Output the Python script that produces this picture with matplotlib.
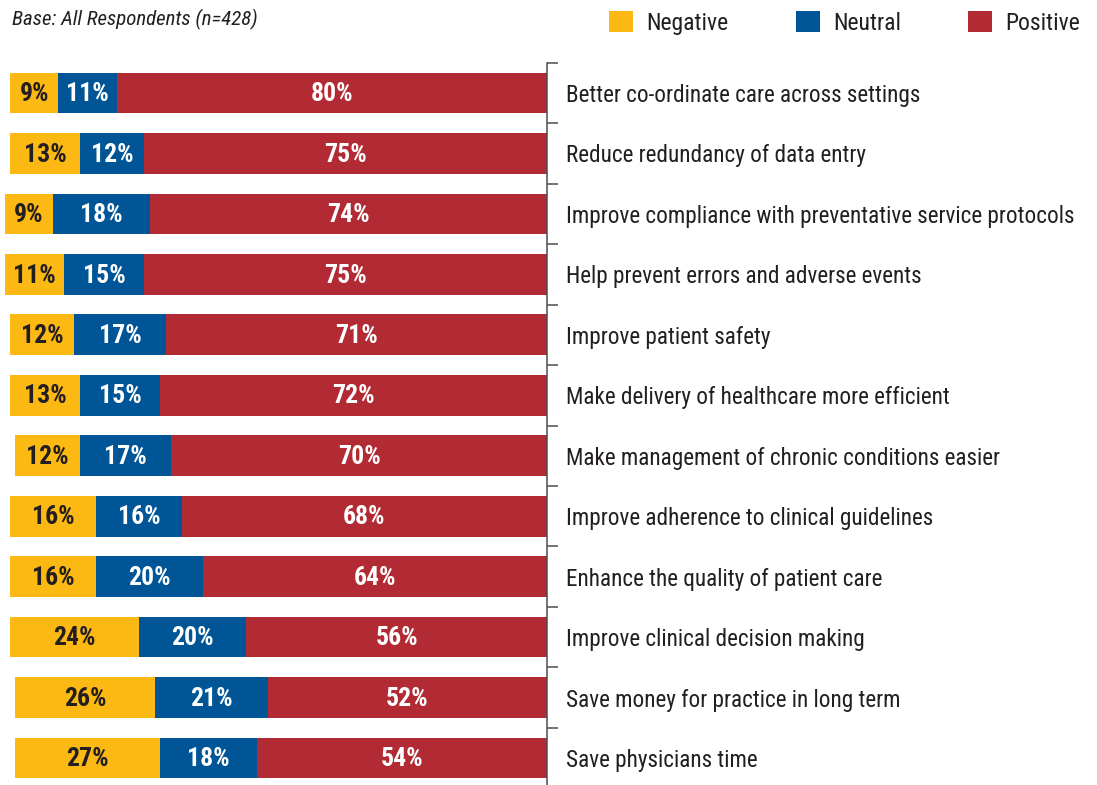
import matplotlib
matplotlib.use('Agg')
import matplotlib.pyplot as plt
from matplotlib.patches import Patch
import numpy as np

plt.rcParams['font.family'] = ['Roboto Condensed', 'Liberation Sans Narrow', 'Liberation Sans']

# data, top row first
statements = [
    'Better co-ordinate care across settings',
    'Reduce redundancy of data entry',
    'Improve compliance with preventative service protocols',
    'Help prevent errors and adverse events',
    'Improve patient safety',
    'Make delivery of healthcare more efficient',
    'Make management of chronic conditions easier',
    'Improve adherence to clinical guidelines',
    'Enhance the quality of patient care',
    'Improve clinical decision making',
    'Save money for practice in long term',
    'Save physicians time',
]
negative = [9, 13, 9, 11, 12, 13, 12, 16, 16, 24, 26, 27]
neutral = [11, 12, 18, 15, 17, 15, 17, 16, 20, 20, 21, 18]
positive = [80, 75, 74, 75, 71, 72, 70, 68, 64, 56, 52, 54]

series_names = ['Negative', 'Neutral', 'Positive']
colors = {'Negative': '#FDB913', 'Neutral': '#005596', 'Positive': '#B12A34'}
text_colors = {'Negative': '#231F20', 'Neutral': 'white', 'Positive': 'white'}

W, H = 1097, 785
fig = plt.figure(figsize=(W / 100, H / 100), dpi=100)
# axes: right edge at the spine (x=547px), rows 60.45px apart starting at y=62.8px
ax = fig.add_axes([0.0, 1 - (62.8 + 12 * 60.45) / H, 547 / W, 12 * 60.45 / H])

y = np.arange(len(statements))
neg = np.array(negative)
neu = np.array(neutral)
pos = np.array(positive)

# bars right-aligned at 0, stacked leftwards: positive, neutral, negative
segments = {
    'Positive': (-pos, pos),
    'Neutral': (-(pos + neu), neu),
    'Negative': (-(pos + neu + neg), neg),
}
for name in series_names:
    left, width = segments[name]
    ax.barh(y, width, left=left, height=0.675, color=colors[name], linewidth=0)
    for yi, l, w in zip(y, left, width):
        ax.text(l + w / 2, yi + 0.02, f'{w}%', ha='center', va='center',
                color=text_colors[name], fontsize=18.5, fontweight='bold')

ax.set_xlim(-547 / 5.37, 0)
ax.set_ylim(len(statements) - 0.5, -0.5)

for s in ['left', 'top', 'bottom']:
    ax.spines[s].set_visible(False)
ax.spines['right'].set_color('#4d4d4d')
ax.spines['right'].set_linewidth(1.1)
ax.set_xticks([])

ax.yaxis.tick_right()
ax.set_yticks(np.arange(len(statements) + 1) - 0.5)
ax.set_yticklabels([])
ax.tick_params(axis='y', which='major', direction='out', length=7.7,
               width=1.1, color='#4d4d4d')
ax.set_yticks(y, statements, minor=True)
ax.tick_params(axis='y', which='minor', length=0, pad=13.5,
               labelsize=16.7, labelcolor='#231F20')

fig.text(12 / W, 1 - 19 / H, 'Base: All Respondents (n=428)',
         fontsize=15, style='italic', color='#231F20', va='center', ha='left')

handles = [Patch(facecolor=colors[n], edgecolor='none') for n in series_names]
fig.legend(handles, series_names, loc='upper right', ncol=3, frameon=False,
           bbox_to_anchor=(1080 / W, 1 - 11 / H), borderaxespad=0, borderpad=0,
           fontsize=17, handlelength=1.02, handleheight=1.02, handletextpad=0.55,
           columnspacing=2.85, labelcolor='#231F20')

fig.savefig('out.png', dpi=100)
